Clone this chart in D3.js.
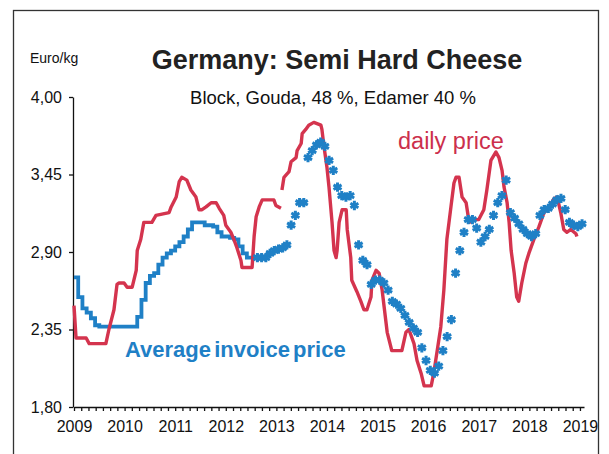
<!DOCTYPE html>
<html>
<head>
<meta charset="utf-8">
<script src="https://cdn.jsdelivr.net/npm/d3@7"></script>
<style>
  body { margin: 0; background: #fff; }
  svg { font-family: Arial, "Liberation Sans", sans-serif; }
</style>
</head>
<body>
<div id="chart"></div>
<script>
// daily price (red), decimal years / euro per kg, null = gap in the line
const dailyTimes = [2009.0, 2009.04, 2009.24, 2009.30, 2009.63, 2009.69, 2009.79, 2009.85, 2009.89, 2009.99,
  2010.05, 2010.15, 2010.23, 2010.25, 2010.32, 2010.38, 2010.54, 2010.62, 2010.88, 2010.92,
  2011.02, 2011.08, 2011.13, 2011.23, 2011.31, 2011.41, 2011.47, 2011.53, 2011.61, 2011.71,
  2011.81, 2011.87, 2011.96, 2012.00, 2012.10, 2012.16, 2012.22, 2012.30, 2012.32, 2012.52,
  2012.56, 2012.60, 2012.66, 2012.72, 2012.95, 2012.99, 2013.09, 2013.10, 2013.11, 2013.15,
  2013.25, 2013.29, 2013.39, 2013.41, 2013.49, 2013.51, 2013.58, 2013.64, 2013.74, 2013.88,
  2013.90, 2013.94, 2014.00, 2014.04, 2014.10, 2014.14, 2014.18, 2014.20, 2014.24, 2014.30,
  2014.38, 2014.40, 2014.47, 2014.49, 2014.59, 2014.67, 2014.73, 2014.79, 2014.87, 2014.89,
  2014.97, 2015.03, 2015.09, 2015.13, 2015.19, 2015.26, 2015.28, 2015.48, 2015.56, 2015.62,
  2015.72, 2015.78, 2015.86, 2015.92, 2016.06, 2016.11, 2016.17, 2016.25, 2016.31, 2016.37,
  2016.45, 2016.51, 2016.55, 2016.61, 2016.67, 2016.75, 2016.81, 2016.91, 2017.00, 2017.10,
  2017.16, 2017.24, 2017.34, 2017.40, 2017.46, 2017.50, 2017.56, 2017.60, 2017.64, 2017.70,
  2017.75, 2017.79, 2017.85, 2017.93, 2017.99, 2018.09, 2018.19, 2018.29, 2018.39, 2018.49,
  2018.55, 2018.62, 2018.68, 2018.74, 2018.82, 2018.92, 2018.94];
const dailyValues = [2.52, 2.29, 2.29, 2.25, 2.25, 2.35, 2.49, 2.67, 2.68, 2.68,
  2.65, 2.65, 2.77, 2.91, 2.99, 3.11, 3.11, 3.16, 3.18, 3.22,
  3.29, 3.40, 3.43, 3.41, 3.34, 3.29, 3.20, 3.20, 3.22, 3.25,
  3.25, 3.21, 3.16, 3.09, 3.04, 2.99, 2.93, 2.84, 2.79, 2.79,
  3.01, 3.15, 3.22, 3.27, 3.27, 3.23, 3.21, null, 3.34, 3.43,
  3.47, 3.54, 3.57, 3.62, 3.67, 3.74, 3.77, 3.80, 3.82, 3.80,
  3.77, 3.65, 3.50, 3.36, 3.11, 2.91, 2.86, 2.91, 3.11, 3.20,
  3.20, 3.06, 2.86, 2.70, 2.62, 2.55, 2.49, 2.49, 2.58, 2.70,
  2.77, 2.75, 2.63, 2.51, 2.33, 2.23, 2.20, 2.20, 2.33, 2.35,
  2.25, 2.13, 2.04, 1.95, 1.95, 2.04, 2.18, 2.37, 2.63, 2.99,
  3.22, 3.39, 3.43, 3.43, 3.29, 3.25, 3.11, 3.13, 3.13, 3.20,
  3.34, 3.55, 3.61, 3.57, 3.48, 3.36, 3.25, 3.11, 2.91, 2.75,
  2.58, 2.55, 2.68, 2.82, 2.89, 2.99, 3.08, 3.18, 3.22, 3.28,
  3.29, 3.18, 3.06, 3.04, 3.06, 3.03, 3.01];

// average invoice price, monthly from Jan 2009 (solid line part)
const invoiceLineValues = [2.72, 2.58, 2.50, 2.47, 2.43, 2.38, 2.37, 2.37, 2.37, 2.37,
  2.37, 2.37, 2.37, 2.37, 2.37, 2.44, 2.56, 2.68, 2.73, 2.75,
  2.81, 2.86, 2.89, 2.91, 2.94, 2.97, 3.01, 3.06, 3.11, 3.11,
  3.11, 3.09, 3.09, 3.08, 3.04, 3.01, 3.01, 3.00, 2.99, 2.94,
  2.89, 2.86, 2.86, 2.86];

// average invoice price, monthly markers from Aug 2012
const invoiceDotValues = [2.86, 2.86, 2.86, 2.89, 2.91, 2.92, 2.93, 2.95, 3.09, 3.16,
  3.25, 3.25, 3.57, 3.62, 3.66, 3.68, 3.65, 3.55, 3.48, 3.36,
  3.30, 3.29, 3.30, 3.23, 2.95, 2.84, 2.81, 2.67, 2.70, 2.70,
  2.68, 2.63, 2.55, 2.53, 2.50, 2.45, 2.40, 2.36, 2.33, 2.22,
  2.13, 2.06, 2.04, 2.09, 2.20, 2.30, 2.42, 2.75, 2.91, 3.04,
  3.13, 3.13, 3.07, 2.97, 3.01, 3.06, 3.16, 3.25, 3.30, 3.41,
  3.18, 3.14, 3.10, 3.06, 3.03, 3.01, 3.03, 3.16, 3.20, 3.21,
  3.24, 3.27, 3.28, 3.20, 3.11, 3.09, 3.08, 3.10];

const yTicks = [1.80, 2.35, 2.90, 3.45, 4.00];
const yearLabels = [2009, 2010, 2011, 2012, 2013, 2014, 2015, 2016, 2017, 2018, 2019];

const red = "#d4344e";
const blue = "#1f80c6";

const svg = d3.select("#chart").append("svg")
    .attr("width", 609)
    .attr("height", 454);

// frame
svg.append("rect")
    .attr("x", 13.5).attr("y", 10.5)
    .attr("width", 585).attr("height", 460)
    .attr("fill", "none")
    .attr("stroke", "#333")
    .attr("stroke-width", 1.3);

var x = d3.scaleLinear()
    .domain([2009, 2019.08])
    .range([74, 584]);

var y = d3.scaleLinear()
    .domain([1.8, 4.0])
    .range([407, 97]);

// Y axis
var yAxis = svg.append("g")
    .attr("transform", "translate(73,0)")
    .call(d3.axisLeft(y)
        .tickValues(yTicks)
        .tickSize(4)
        .tickSizeOuter(0)
        .tickPadding(7)
        .tickFormat(function (d) { return d3.format(".2f")(d).replace(".", ","); }));
yAxis.selectAll("text").attr("font-size", 16).attr("fill", "#111");
yAxis.selectAll("line, path").attr("stroke", "#111").attr("stroke-width", 1.3);

// X axis: minor ticks
var xAxis = svg.append("g")
    .attr("transform", "translate(0,407)")
    .call(d3.axisBottom(x)
        .tickValues(d3.range(0, 71).map(function (i) { return 2009 + i / 7; }))
        .tickSize(4)
        .tickSizeOuter(0)
        .tickFormat(""));
xAxis.selectAll("line, path").attr("stroke", "#111").attr("stroke-width", 1.3);

// X axis: year labels
var xLabels = svg.append("g")
    .attr("transform", "translate(0,407)")
    .call(d3.axisBottom(x)
        .tickValues(yearLabels)
        .tickSize(0)
        .tickPadding(14)
        .tickFormat(d3.format("d")));
xLabels.select(".domain").remove();
xLabels.selectAll("text").attr("font-size", 16).attr("fill", "#111");

// invoice price solid line (monthly steps)
svg.append("path")
    .datum(invoiceLineValues)
    .attr("fill", "none")
    .attr("stroke", blue)
    .attr("stroke-width", 3.8)
    .attr("d", d3.line()
        .curve(d3.curveStepAfter)
        .x(function (d, i) { return x(2009 + i / 12); })
        .y(function (d) { return y(d); }));

// daily price line
svg.append("path")
    .datum(dailyValues)
    .attr("fill", "none")
    .attr("stroke", red)
    .attr("stroke-width", 3.4)
    .attr("stroke-linejoin", "round")
    .attr("d", d3.line()
        .defined(function (d) { return d !== null; })
        .x(function (d, i) { return x(dailyTimes[i]); })
        .y(function (d) { return y(d); }));

// invoice price markers
svg.append("g")
    .selectAll("path")
    .data(invoiceDotValues)
    .join("path")
    .attr("transform", function (d, i) {
        return "translate(" + x(2012.625 + i / 12) + "," + y(d) + ")";
    })
    .attr("d", d3.symbol().type(d3.symbolAsterisk).size(60))
    .attr("fill", "none")
    .attr("stroke", blue)
    .attr("stroke-width", 3);

// texts
svg.append("text")
    .attr("x", 30).attr("y", 63)
    .attr("font-size", 14)
    .attr("fill", "#111")
    .text("Euro/kg");

svg.append("text")
    .attr("x", 337).attr("y", 69)
    .attr("text-anchor", "middle")
    .attr("font-size", 27)
    .attr("font-weight", "bold")
    .attr("fill", "#222")
    .text("Germany: Semi Hard Cheese");

svg.append("text")
    .attr("x", 333).attr("y", 104)
    .attr("text-anchor", "middle")
    .attr("font-size", 18.5)
    .attr("fill", "#111")
    .text("Block, Gouda, 48 %, Edamer 40 %");

svg.append("text")
    .attr("x", 398).attr("y", 149)
    .attr("font-size", 23.5)
    .attr("fill", "#cc2f4c")
    .text("daily price");

svg.append("text")
    .attr("x", 125).attr("y", 357)
    .attr("font-size", 22)
    .attr("font-weight", "bold")
    .attr("word-spacing", -3)
    .attr("fill", blue)
    .text("Average invoice price");
</script>
</body>
</html>
